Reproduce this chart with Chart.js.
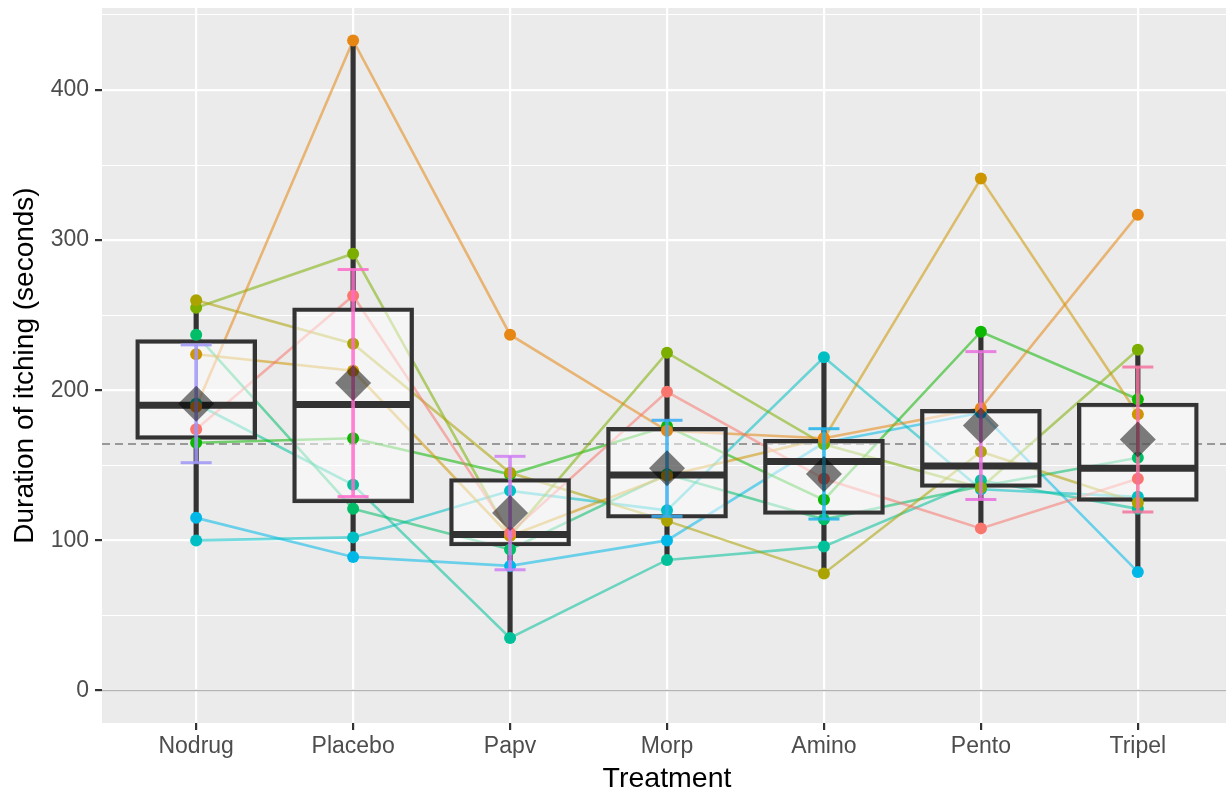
<!DOCTYPE html>
<html>
<head>
<meta charset="utf-8">
<script src="https://cdn.jsdelivr.net/npm/chart.js@4.4.1/dist/chart.umd.min.js"></script>
<style>
  html, body { margin: 0; padding: 0; overflow: hidden; background: #fff; }
  canvas { display: block; }
</style>
</head>
<body>
<canvas id="chart" width="1232" height="792"></canvas>
<script>
// itching duration per subject, one value per treatment
const treatments = ['Nodrug', 'Placebo', 'Papv', 'Morp', 'Amino', 'Pento', 'Tripel'];
const subject1  = [174, 263, 105, 199, 141, 108, 141];
const subject2  = [224, 213, 103, 143, 168, 341, 184];
const subject3  = [260, 231, 145, 113,  78, 159, 125];
const subject4  = [255, 291, 103, 225, 164, 135, 227];
const subject5  = [165, 168, 144, 176, 127, 239, 194];
const subject6  = [237, 121,  94, 144, 114, 136, 155];
const subject7  = [191, 137,  35,  87,  96, 140, 121];
const subject8  = [100, 102, 133, 120, 222, 134, 129];
const subject9  = [115,  89,  83, 100, 165, 185,  79];
const subject10 = [189, 433, 237, 173, 168, 188, 317];
const yTicks = [0, 100, 200, 300, 400];

const subjects = [subject1, subject10, subject2, subject3, subject4, subject5, subject6, subject7, subject8, subject9];
const subjectColors = ['#F8766D', '#E68613', '#CD9600', '#ABA300', '#7CAE00', '#0CB702', '#00BE67', '#00C19A', '#00BFC4', '#00B8E7'];
const ciColors = ['#9F97F7', '#FF6BCB', '#CF7FF2', '#3AADF5', '#1FB4EA', '#E96FDF', '#F4729F'];

// summary stats (same as ggplot: quantile type 7, 95% t interval)
function quantile(sorted, p) {
  const h = (sorted.length - 1) * p;
  const lo = Math.floor(h);
  return sorted[lo] + (h - lo) * ((sorted[lo + 1] ?? sorted[lo]) - sorted[lo]);
}
const stats = treatments.map((t, i) => {
  const vals = subjects.map(s => s[i]).sort((a, b) => a - b);
  const q1 = quantile(vals, 0.25), med = quantile(vals, 0.5), q3 = quantile(vals, 0.75);
  const iqr = q3 - q1;
  const inside = vals.filter(v => v >= q1 - 1.5 * iqr && v <= q3 + 1.5 * iqr);
  const mean = vals.reduce((a, b) => a + b, 0) / vals.length;
  const sd = Math.sqrt(vals.reduce((a, v) => a + (v - mean) ** 2, 0) / (vals.length - 1));
  const half = 2.262157 * sd / Math.sqrt(vals.length);
  return { q1, med, q3, lo: inside[0], hi: inside[inside.length - 1], mean, ciLo: mean - half, ciHi: mean + half };
});
const allVals = subjects.flat();
const grandMean = allVals.reduce((a, b) => a + b, 0) / allVals.length;

const alpha = (hex, a) => hex + Math.round(a * 255).toString(16).padStart(2, '0');

const datasets = [];
datasets.push({
  type: 'line', data: [{x: -0.6, y: 0}, {x: 6.6, y: 0}],
  borderColor: '#B3B3B3', borderWidth: 1.5, pointRadius: 0, order: 100
});
datasets.push({
  type: 'line', data: [{x: -0.6, y: grandMean}, {x: 6.6, y: grandMean}],
  borderColor: '#7F7F7F', borderWidth: 1.5, borderDash: [8, 5], pointRadius: 0, order: 99
});
subjects.forEach((s, k) => {
  datasets.push({
    type: 'line', data: s.map((v, i) => ({x: i, y: v})),
    borderColor: alpha(subjectColors[k], 0.55), borderWidth: 2.6, pointRadius: 0, order: 50
  });
});
// whiskers: lower and upper segments outside the box
datasets.push({
  type: 'bar', data: stats.map((st, i) => ({x: i, y: [st.lo, st.q1]})),
  backgroundColor: '#333333', barThickness: 4.5, grouped: false, order: 40
});
datasets.push({
  type: 'bar', data: stats.map((st, i) => ({x: i, y: [st.q3, st.hi]})),
  backgroundColor: '#333333', barThickness: 4.5, grouped: false, order: 40
});
datasets.push({
  type: 'bar', data: stats.map((st, i) => ({x: i, y: [st.q1, st.q3]})),
  backgroundColor: 'rgba(255,255,255,0.5)', borderColor: '#333333', borderWidth: 4,
  borderSkipped: false, barThickness: 121, grouped: false, order: 39
});
datasets.push({
  type: 'line', showLine: false, data: stats.map((st, i) => ({x: i, y: st.med})),
  pointStyle: 'line', pointRadius: 58, borderColor: '#333333', borderWidth: 7, order: 38
});
subjects.forEach((s, k) => {
  datasets.push({
    type: 'line', showLine: false, data: s.map((v, i) => ({x: i, y: v})),
    pointRadius: 6, pointBackgroundColor: subjectColors[k], pointBorderWidth: 0, order: 30
  });
});
datasets.push({
  type: 'bar', data: stats.map((st, i) => ({x: i, y: [st.ciLo, st.ciHi]})),
  backgroundColor: ciColors.map(c => alpha(c, 0.85)), barThickness: 3, grouped: false, order: 20
});
datasets.push({
  type: 'line', showLine: false,
  data: stats.flatMap((st, i) => [{x: i, y: st.ciLo}, {x: i, y: st.ciHi}]),
  pointStyle: 'line', pointRadius: 15.5, borderWidth: 3,
  borderColor: ciColors.flatMap(c => [alpha(c, 0.85), alpha(c, 0.85)]), order: 19
});
datasets.push({
  type: 'line', showLine: false, data: stats.map((st, i) => ({x: i, y: st.mean})),
  pointStyle: 'rectRot', pointRadius: 18, pointBackgroundColor: 'rgba(0,0,0,0.5)',
  pointBorderWidth: 0, order: 10
});

const panelBg = {
  id: 'panelBg',
  beforeDraw(chart) {
    const {ctx, chartArea: a} = chart;
    ctx.save();
    ctx.fillStyle = '#EBEBEB';
    ctx.fillRect(a.left, a.top, a.right - a.left, a.bottom - a.top);
    ctx.restore();
  }
};

const font = 'Liberation Sans, Arial, sans-serif';
const isMajor = v => yTicks.includes(v);

new Chart(document.getElementById('chart'), {
  type: 'bar',
  data: { datasets },
  plugins: [panelBg],
  options: {
    responsive: false,
    animation: false,
    devicePixelRatio: 1,
    layout: { autoPadding: false, padding: { top: 8, right: 0, left: 0, bottom: 0 } },
    plugins: { legend: { display: false }, tooltip: { enabled: false } },
    scales: {
      x: {
        type: 'linear', min: -0.6, max: 6.6, offset: false,
        afterFit: s => { s.height = 69; s.paddingLeft = 0; s.paddingRight = 0; },
        border: { display: false },
        grid: { color: '#FFFFFF', lineWidth: 2.2, offset: false, tickLength: 7, tickWidth: 2.2, tickColor: '#333333' },
        ticks: {
          stepSize: 1, includeBounds: false, autoSkip: false, maxRotation: 0, padding: 3,
          color: '#4D4D4D', font: { family: font, size: 23 },
          callback: v => treatments[v] ?? ''
        },
        title: { display: true, text: 'Treatment', color: '#000', font: { family: font, size: 28.5 }, padding: { top: 0, bottom: -4 } }
      },
      y: {
        type: 'linear', min: -21.65, max: 454.65,
        afterFit: s => { s.width = 102; s.paddingTop = 0; s.paddingBottom = 0; },
        border: { display: false },
        grid: {
          color: '#FFFFFF', tickLength: 7,
          lineWidth: c => (c.tick && isMajor(c.tick.value)) ? 2.2 : 1.1,
          tickWidth: 2.2,
          tickColor: c => (c.tick && isMajor(c.tick.value)) ? '#333333' : 'rgba(0,0,0,0)'
        },
        ticks: {
          stepSize: 50, includeBounds: false, autoSkip: false, padding: 6,
          color: '#4D4D4D', font: { family: font, size: 23 },
          callback: v => isMajor(v) ? String(v) : ''
        },
        title: { display: true, text: 'Duration of itching (seconds)', color: '#000', font: { family: font, size: 28 }, padding: { top: 8, bottom: 0 } }
      }
    }
  }
});
</script>
</body>
</html>
